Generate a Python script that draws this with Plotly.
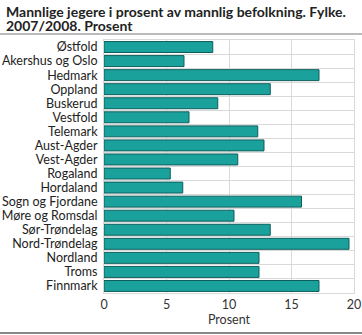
import plotly.graph_objects as go

categories = ["Østfold", "Akershus og Oslo", "Hedmark", "Oppland", "Buskerud", "Vestfold",
              "Telemark", "Aust-Agder", "Vest-Agder", "Rogaland", "Hordaland",
              "Sogn og Fjordane", "Møre og Romsdal", "Sør-Trøndelag", "Nord-Trøndelag",
              "Nordland", "Troms", "Finnmark"]
values = [8.7, 6.4, 17.2, 13.3, 9.1, 6.8, 12.3, 12.8, 10.7, 5.3, 6.3,
          15.8, 10.4, 13.3, 19.6, 12.4, 12.4, 17.2]
x_ticks = [0, 5, 10, 15, 20]
title_lines = ["Mannlige jegere i prosent av mannlig befolkning. Fylke.", "2007/2008. Prosent"]

FONT = "Lato"

fig = go.Figure(go.Bar(
    x=values, y=categories, orientation="h",
    marker=dict(color="#1ba19c", line=dict(color="#0d5e5b", width=1)),
    width=0.78,
))

fig.update_layout(
    width=362, height=335,
    margin=dict(l=104, r=8, t=40, b=42, autoexpand=False),
    paper_bgcolor="white", plot_bgcolor="white",
    font=dict(family=FONT, size=12, color="#222"),
    showlegend=False,
    xaxis=dict(range=[0, 20], tickvals=x_ticks, showgrid=True, gridcolor="#d9d9d9", gridwidth=1,
               zeroline=False, showline=True, linecolor="#d9d9d9", mirror=True, automargin=False,
               ticks="", tickfont=dict(size=12.5, color="#333"),
               title=dict(text="Prosent", font=dict(size=12.5, color="#333"), standoff=4)),
    yaxis=dict(autorange="reversed", type="category", tickson="boundaries", showgrid=True,
               gridcolor="#d9d9d9", showline=True, linecolor="#d9d9d9", mirror=True,
               automargin=False, ticks="", ticklabelstandoff=3,
               tickmode="array", tickvals=categories, ticktext=categories,
               tickfont=dict(size=12.5, color="#222")),
    annotations=[
        dict(text="<b>" + title_lines[0] + "</b>", xref="paper", yref="paper",
             x=-100/250, y=1+39/253, xanchor="left", yanchor="top", showarrow=False,
             font=dict(size=14, color="#222")),
        dict(text="<b>" + title_lines[1] + "</b>", xref="paper", yref="paper",
             x=-100/250, y=1+25/253, xanchor="left", yanchor="top", showarrow=False,
             font=dict(size=14, color="#222")),
    ],
    shapes=[
        dict(type="line", xref="paper", yref="paper", x0=-104/250, x1=1+8/250,
             y0=1+6/253, y1=1+6/253, line=dict(color="#bbbbbb", width=2)),
        dict(type="line", xref="paper", yref="paper", x0=-104/250, x1=1+8/250,
             y0=-40/253, y1=-40/253, line=dict(color="#888888", width=2)),
    ],
)

fig.write_html("out.html")
